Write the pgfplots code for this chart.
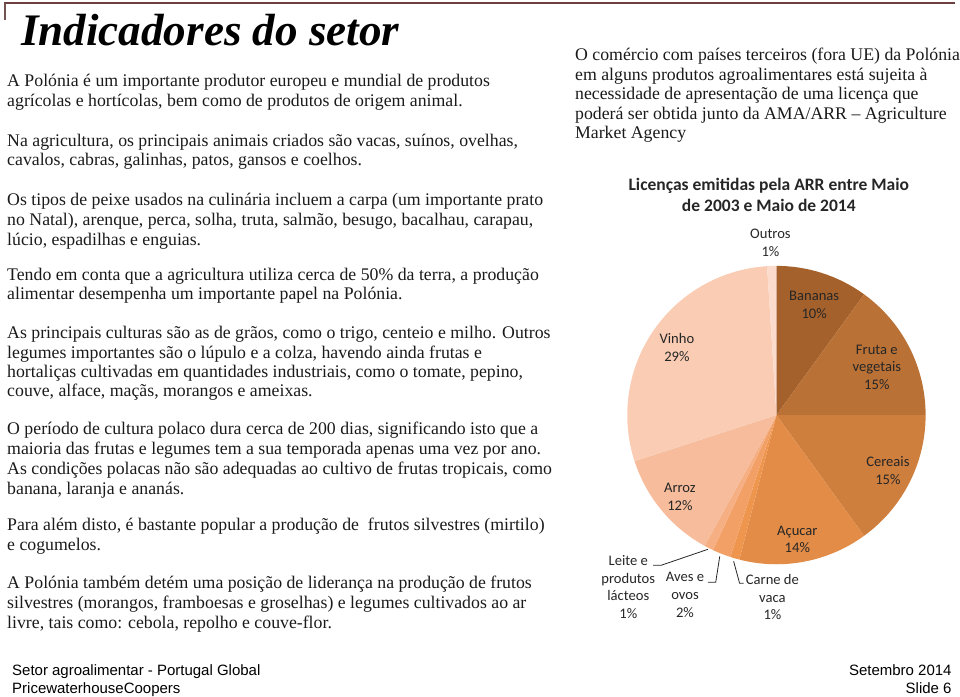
\documentclass[border=0pt]{standalone}
\usepackage{pgfplots}
\pgfplotsset{compat=1.18}
\usepackage{pgfplotstable}
\usepackage{fontspec}
\setmainfont{Liberation Serif}
\newfontfamily\calibri{Carlito}
\newfontfamily\arialf{Liberation Sans}

\definecolor{cBan}{HTML}{A4612B}
\definecolor{cFru}{HTML}{BA7136}
\definecolor{cCer}{HTML}{CE7E3D}
\definecolor{cAcu}{HTML}{E28C47}
\definecolor{cCar}{HTML}{EE964E}
\definecolor{cAve}{HTML}{F2A066}
\definecolor{cLei}{HTML}{F5AF83}
\definecolor{cArr}{HTML}{F6BC9C}
\definecolor{cVin}{HTML}{F9CCB3}
\definecolor{cOut}{HTML}{FBDBCB}
\definecolor{txt}{HTML}{1A1A1A}
\definecolor{lab}{HTML}{262626}
\definecolor{topline}{HTML}{6E3F3F}

\pgfplotstableread[col sep=comma]{
name,value,color
Bananas,10,cBan
Fruta e vegetais,15,cFru
Cereais,15,cCer
Acucar,14,cAcu
Carne de vaca,1,cCar
Aves e ovos,2,cAve
Leite e produtos lacteos,1,cLei
Arroz,12,cArr
Vinho,29,cVin
Outros,1,cOut
}\piedata

\newcommand{\bodyfont}{\fontsize{13.4}{15}\selectfont\color{txt}}

\begin{document}
\begin{tikzpicture}
\begin{scope}[x=0.75pt,y=-0.75pt]
\path (0,0) rectangle (960,700);
% top decoration
\draw[topline,line width=1.2pt] (4,3) -- (960,3);
\draw[topline!70!gray,line width=1pt] (5,3) -- (5,20);
% title
\node[anchor=base west,inner sep=0pt,font=\fontsize{34}{38}\selectfont\bfseries\itshape] at (21,46) {Indicadores do setor};
% left column
\begin{scope}[every node/.style={anchor=base west,inner sep=0pt,font=\bodyfont}]
\node at (7,87) {A Polónia é um importante produtor europeu e mundial de produtos};
\node at (7,107) {agrícolas e hortícolas, bem como de produtos de origem animal.};
\node at (7,147) {Na agricultura, os principais animais criados são vacas, suínos, ovelhas,};
\node at (7,166) {cavalos, cabras, galinhas, patos, gansos e coelhos.};
\node at (7,207) {Os tipos de peixe usados na culinária incluem a carpa (um importante prato};
\node at (7,227) {no Natal), arenque, perca, solha, truta, salmão, besugo, bacalhau, carapau,};
\node at (7,247) {lúcio, espadilhas e enguias.};
\node at (7,282) {Tendo em conta que a agricultura utiliza cerca de 50\% da terra, a produção};
\node at (7,301) {alimentar desempenha um importante papel na Polónia.};
\node at (7,340) {As principais culturas são as de grãos, como o trigo, centeio e milho. Outros};
\node at (7,360) {legumes importantes são o lúpulo e a colza, havendo ainda frutas e};
\node at (7,380) {hortaliças cultivadas em quantidades industriais, como o tomate, pepino,};
\node at (7,399) {couve, alface, maçãs, morangos e ameixas.};
\node at (7,437) {O período de cultura polaco dura cerca de 200 dias, significando isto que a};
\node at (7,457) {maioria das frutas e legumes tem a sua temporada apenas uma vez por ano.};
\node at (7,477) {As condições polacas não são adequadas ao cultivo de frutas tropicais, como};
\node at (7,497) {banana, laranja e ananás.};
\node at (7,533) {Para além disto, é bastante popular a produção de\ \ frutos silvestres (mirtilo)};
\node at (7,553) {e cogumelos.};
\node at (7,592) {A Polónia também detém uma posição de liderança na produção de frutos};
\node at (7,612) {silvestres (morangos, framboesas e groselhas) e legumes cultivados ao ar};
\node at (7,632) {livre, tais como: cebola, repolho e couve-flor.};
% right column
\node at (578,61) {O comércio com países terceiros (fora UE) da Polónia};
\node at (578,81) {em alguns produtos agroalimentares está sujeita à};
\node at (578,100) {necessidade de apresentação de uma licença que};
\node at (578,120) {poderá ser obtida junto da AMA/ARR – Agriculture};
\node at (578,139) {Market Agency};
\end{scope}
% pie title
\node[align=center,inner sep=0pt,font=\calibri\bfseries\fontsize{13.2}{16}\selectfont,text=lab] at (773,196) {Licenças emitidas pela ARR entre Maio\\de 2003 e Maio de 2014};
% footer
\begin{scope}[every node/.style={inner sep=0pt,font=\arialf\fontsize{11.3}{12}\selectfont,text=black}]
\node[anchor=base west] at (12,679) {Setor agroalimentar - Portugal Global};
\node[anchor=base west] at (12,697) {PricewaterhouseCoopers};
\node[anchor=base east] at (957,679) {Setembro 2014};
\node[anchor=base east] at (957,697) {Slide 6};
\end{scope}
\end{scope}

\pgfplotstablegetrowsof{\piedata}
\pgfmathtruncatemacro\lastrow{\pgfplotsretval-1}
\gdef\cumsum{0}
\begin{axis}[
  at={(585.5pt,-313pt)}, anchor=center,
  width=225pt, height=225pt, scale only axis,
  xmin=-1, xmax=1, ymin=-1, ymax=1,
  enlargelimits=false, hide axis, clip=false,
]
\pgfplotsforeachungrouped \i in {0,...,\lastrow}{%
  \pgfplotstablegetelem{\i}{value}\of\piedata
  \pgfmathsetmacro\angA{90-3.6*\cumsum}%
  \pgfmathsetmacro\cumsumnew{\cumsum+\pgfplotsretval}%
  \pgfmathsetmacro\angB{90-3.6*\cumsumnew}%
  \pgfplotstablegetelem{\i}{color}\of\piedata
  \edef\slicecmd{\noexpand\fill[\pgfplotsretval] (axis cs:0,0) -- (axis cs:{cos(\angA)},{sin(\angA)}) arc[start angle=\angA, end angle=\angB, radius=112.5pt] -- cycle;}%
  \slicecmd
  \global\let\cumsum\cumsumnew
}
% leader lines
\draw[lab,line width=0.6pt] (axis cs:-0.46,-0.90) -- (axis cs:-0.773,-1.007) -- (axis cs:-0.827,-1.007);
\draw[lab,line width=0.6pt] (axis cs:-0.38,-0.947) -- (axis cs:-0.407,-1.12) -- (axis cs:-0.46,-1.12);
\draw[lab,line width=0.6pt] (axis cs:-0.287,-0.98) -- (axis cs:-0.247,-1.127) -- (axis cs:-0.22,-1.127);
% labels
\begin{scope}[every node/.style={align=center,inner sep=0pt,font=\calibri\fontsize{11}{13.5}\selectfont,text=lab}]
\node at (axis cs:-0.04,1.155) {Outros\\1\%};
\node at (axis cs:0.253,0.74) {Bananas\\10\%};
\node at (axis cs:-0.667,0.453) {Vinho\\29\%};
\node at (axis cs:0.673,0.32) {Fruta e\\vegetais\\15\%};
\node at (axis cs:0.747,-0.373) {Cereais\\15\%};
\node at (axis cs:-0.647,-0.547) {Arroz\\12\%};
\node at (axis cs:0.14,-0.833) {Açucar\\14\%};
\node at (axis cs:-0.993,-1.153) {Leite e\\produtos\\lácteos\\1\%};
\node at (axis cs:-0.613,-1.207) {Aves e\\ovos\\2\%};
\node at (axis cs:-0.027,-1.22) {Carne de\\vaca\\1\%};
\end{scope}
\end{axis}
\end{tikzpicture}
\end{document}
